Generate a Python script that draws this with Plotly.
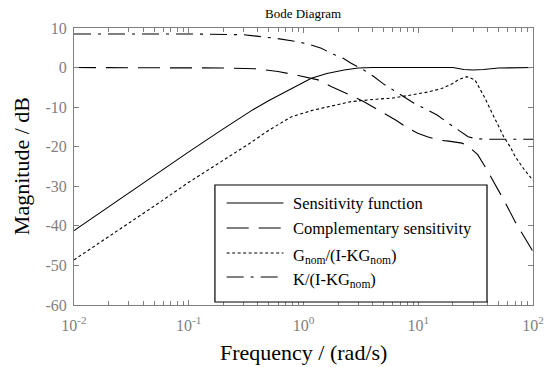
import plotly.graph_objects as go

# ---------------- data ----------------
freq_S = [0.01, 0.02, 0.05, 0.1, 0.2, 0.36, 0.5, 0.79, 1.17, 1.6, 2.26, 3.0, 4.0, 10, 20, 25, 30, 37, 50, 100]
mag_S = [-41.2, -35.2, -27.3, -21.3, -15.5, -10.7, -8.3, -5.2, -2.7, -1.5, -0.6, -0.1, 0, 0, 0, -0.5, -0.6, -0.5, -0.1, 0]

freq_T = [0.01, 0.1, 0.2, 0.38, 0.6, 0.9, 1.17, 1.34, 1.74, 2.26, 2.76, 3.34, 4.2, 5.3, 6.4, 8, 9.9, 12, 15, 18.4, 21, 24, 27, 33, 40, 50, 57, 70, 85, 100]
mag_T = [0, 0, -0.1, -0.3, -1.0, -2.0, -2.7, -3.1, -4.8, -6.2, -7.4, -8.6, -10.3, -12.0, -13.3, -15.2, -16.6, -17.5, -18.3, -18.6, -18.8, -19.1, -19.8, -22.0, -26.0, -31.0, -34.0, -39.0, -43.0, -46.5]

freq_G = [0.01, 0.02, 0.05, 0.1, 0.165, 0.338, 0.5, 0.79, 1.2, 1.63, 2.6, 4.3, 6, 8.4, 12, 16, 20, 22.3, 26.5, 31.2, 37.6, 45.6, 55.6, 63.5, 70, 85, 100]
mag_G = [-48.6, -42.8, -35.0, -29.0, -25.0, -19.2, -15.8, -12.4, -10.8, -9.9, -8.6, -8.0, -7.7, -7.0, -6.2, -5.3, -4.0, -3.1, -2.3, -3.1, -7.4, -12.4, -17.5, -20.1, -22.5, -26.0, -28.5]

freq_K = [0.01, 0.1, 0.3, 0.44, 0.57, 0.9, 1.1, 1.43, 1.74, 2.2, 2.6, 3.3, 4.07, 4.9, 6.4, 7.6, 9.2, 12, 14.6, 18.4, 22.3, 27.2, 32, 40, 100]
mag_K = [8.5, 8.5, 8.3, 7.8, 7.4, 6.5, 5.9, 4.9, 3.6, 2.4, 1.1, -0.5, -2.2, -4.0, -6.1, -7.4, -9.0, -10.7, -12.0, -14.1, -15.8, -17.5, -18.0, -18.1, -18.1]

series_names = [
    "Sensitivity function",
    "Complementary sensitivity",
    "G<sub>nom</sub>/(I-KG<sub>nom</sub>)",
    "K/(I-KG<sub>nom</sub>)",
]

y_tick_vals = [10, 0, -10, -20, -30, -40, -50, -60]
y_tick_text = ["10", "0", "-10", "-20", "-30", "-40", "-50", "-60"]
decade_exps = [-2, -1, 0, 1, 2]

# ---------------- styles ----------------
dashes = ["solid", "22px,10px", "3px,2.5px", "17px,7px,3px,7px"]
FONT = "Liberation Serif"
GRAY = "#7f7f7f"

fig = go.Figure()
for f, m, name, d in zip([freq_S, freq_T, freq_G, freq_K],
                         [mag_S, mag_T, mag_G, mag_K], series_names, dashes):
    fig.add_trace(go.Scatter(x=f, y=m, mode="lines", name=name,
                             line=dict(color="black", width=1.1, dash=d),
                             showlegend=False))

major_vals = [10.0 ** e for e in decade_exps]
major_text = ["10<sup>%d</sup>" % e for e in decade_exps]
minor_vals = [k * 10.0 ** e for e in decade_exps[:-1] for k in range(2, 10)]

fig.update_xaxes(type="log", range=[-2, 2], tickvals=major_vals, ticktext=major_text,
                 ticks="inside", ticklen=5, tickcolor=GRAY, tickwidth=1,
                 minor=dict(tickmode="array", tickvals=minor_vals, ticks="inside",
                            ticklen=4, tickcolor=GRAY, tickwidth=1, showgrid=False),
                 showline=True, linecolor=GRAY, linewidth=1, mirror="allticks",
                 showgrid=False, zeroline=False,
                 tickfont=dict(family=FONT, size=16, color=GRAY),
                 ticklabelstandoff=6)
fig.update_yaxes(range=[-60, 10], tickvals=y_tick_vals, ticktext=y_tick_text,
                 ticks="inside", ticklen=5, tickcolor=GRAY, tickwidth=1,
                 showline=True, linecolor=GRAY, linewidth=1, mirror="allticks",
                 showgrid=False, zeroline=False,
                 tickfont=dict(family=FONT, size=16, color=GRAY),
                 ticklabelstandoff=3)

L, R, T, B = 74, 13, 28, 62
W, H = 556, 367
PW, PH = W - L - R, H - T - B

def px(xp):
    return (xp - L) / PW

def py(yp):
    return (H - B - yp) / PH

shapes = [dict(type="rect", xref="paper", yref="paper",
               x0=px(218), x1=px(496), y0=py(302), y1=py(185),
               line=dict(color="black", width=1.2), fillcolor="white", layer="above")]
annotations = []
rows_y = [203, 228, 253, 277]
for name, d, ry in zip(series_names, dashes, rows_y):
    shapes.append(dict(type="line", xref="paper", yref="paper",
                       x0=px(230), x1=px(288), y0=py(ry), y1=py(ry),
                       line=dict(color="black", width=1.1, dash=d), layer="above"))
    shift = -3 if "<sub>" in name else 0
    annotations.append(dict(text=name, xref="paper", yref="paper",
                            x=px(296), y=py(ry), xanchor="left", yanchor="middle",
                            yshift=shift, showarrow=False,
                            font=dict(family=FONT, size=16.5, color="black")))

annotations.append(dict(text="Magnitude / dB", xref="paper", yref="paper",
                        x=px(20), y=py(166), xanchor="center", yanchor="middle",
                        textangle=-90, showarrow=False,
                        font=dict(family=FONT, size=22, color="black")))
annotations.append(dict(text="Frequency / (rad/s)", xref="paper", yref="paper",
                        x=px(308), y=py(352), xanchor="center", yanchor="middle",
                        showarrow=False,
                        font=dict(family=FONT, size=22, color="black")))
annotations.append(dict(text="Bode Diagram", xref="paper", yref="paper",
                        x=px(308), y=py(14), xanchor="center", yanchor="middle",
                        showarrow=False,
                        font=dict(family=FONT, size=13, color="black")))

fig.update_layout(width=W, height=H, margin=dict(l=L, r=R, t=T, b=B),
                  paper_bgcolor="white", plot_bgcolor="white",
                  shapes=shapes, annotations=annotations, showlegend=False)

fig.write_html("out.html")
